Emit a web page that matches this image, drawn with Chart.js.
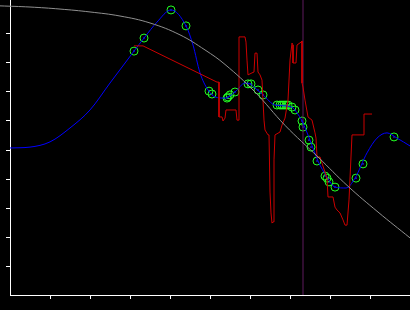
<!DOCTYPE html>
<html>
<head>
<meta charset="utf-8">
<script src="https://cdn.jsdelivr.net/npm/chart.js@4"></script>
<style>
  html, body { margin: 0; padding: 0; background: #000; }
  canvas { display: block; }
</style>
</head>
<body>
<canvas id="chart" width="410" height="310"></canvas>
<script>
// gray reference curve
var grayX = [-0.25, 0.5, 1.25, 2.0, 2.75, 3.5, 4.25, 4.875, 5.375, 6.125, 6.875, 7.7, 8.45, 9.2, 10];
var grayY = [9.97, 9.93, 9.86, 9.76, 9.62, 9.38, 8.97, 8.45, 7.95, 7.00, 5.85, 4.76, 3.75, 2.86, 1.97];

// blue smooth curve
var blueX = [0, 0.5, 1.0, 1.5, 2.0, 2.5, 3.1, 3.35, 3.675, 4.025, 4.4, 4.575, 4.75, 4.95, 5.125, 5.375, 5.625, 5.875, 6.0, 6.125,
             6.325, 6.625, 6.875, 7.075, 7.175, 7.3, 7.5, 7.7, 7.925, 8.125, 8.4, 8.625, 8.925, 9.175, 9.425, 9.675, 10];
var blueY = [5.07, 5.10, 5.28, 5.76, 6.38, 7.31, 8.41, 8.86, 9.41, 9.83, 9.28, 8.62, 7.66, 7.07, 6.83, 6.79, 7.0, 7.31, 7.28, 7.14,
             6.90, 6.55, 6.52, 6.45, 6.28, 6.0, 5.34, 4.62, 4.07, 3.72, 3.69, 4.03, 4.90, 5.41, 5.59, 5.41, 5.14];

// green sample points
var ptX = [3.1, 3.35, 4.025, 4.4, 4.975, 5.05, 5.425, 5.45, 5.5, 5.625, 5.95, 6.025, 6.2, 6.325, 6.675, 6.75, 6.8,
           6.85, 6.9, 6.95, 7.05, 7.125, 7.3, 7.325, 7.475, 7.525, 7.675, 7.875, 7.925, 7.975, 8.125, 8.65, 8.825, 9.6];
var ptY = [8.41, 8.86, 9.83, 9.28, 7.03, 6.93, 6.79, 6.83, 6.90, 7.0, 7.28, 7.28, 7.07, 6.90, 6.55, 6.55, 6.55,
           6.55, 6.55, 6.55, 6.48, 6.38, 6.0, 5.79, 5.34, 5.10, 4.62, 4.10, 4.03, 3.90, 3.72, 4.03, 4.52, 5.45];

// red noisy trace
var redX = [3.1, 3.325, 5.175, 5.225, 5.225, 5.3, 5.325, 5.375, 5.4, 5.65, 5.675, 5.725, 5.725, 5.875, 5.9, 5.925, 5.95,
            6.05, 6.1, 6.125, 6.175, 6.2, 6.25, 6.3, 6.35, 6.375, 6.45, 6.475, 6.5, 6.525, 6.55, 6.575, 6.6, 6.625,
            6.75, 6.8, 6.875, 6.95, 7.0, 7.05, 7.075, 7.075, 7.15, 7.175, 7.275, 7.3, 7.3, 7.325, 7.375, 7.45, 7.55,
            7.625, 7.65, 7.675, 7.75, 7.8, 7.875, 7.925, 7.95, 8.075, 8.125, 8.175, 8.25, 8.325, 8.375, 8.425, 8.475,
            8.55, 8.85, 8.85, 9.05];
var redY = [8.59, 8.59, 7.34, 7.34, 6.14, 6.14, 6.0, 6.10, 6.38, 6.38, 6.03, 6.03, 8.90, 8.90, 8.72, 8.10, 7.59,
            7.66, 7.69, 8.34, 8.34, 7.69, 7.59, 7.41, 6.03, 5.69, 5.52, 5.52, 3.55, 2.83, 2.48, 2.52, 4.66, 5.52,
            5.62, 5.86, 6.10, 6.72, 8.10, 8.69, 8.62, 8.0, 8.0, 8.62, 8.72, 8.76, 7.31, 7.17, 6.72, 6.14, 6.03,
            5.59, 5.41, 4.76, 4.76, 4.55, 4.24, 4.03, 3.38, 3.38, 3.03, 2.93, 2.83, 2.59, 2.41, 2.41, 3.28,
            5.52, 5.52, 6.24, 6.24];

// vertical marker
var markX = 7.325;

var yTop = 295 / 29;

function pts(xs, ys) {
    return xs.map(function (x, i) { return { x: x, y: ys[i] }; });
}

function tickColor(ctx) {
    var v = ctx.tick ? ctx.tick.value : null;
    return (v === 0 || v === 10) ? 'rgba(0,0,0,0)' : '#ffffff';
}

new Chart(document.getElementById('chart').getContext('2d'), {
    type: 'scatter',
    data: {
        datasets: [
            { data: pts(grayX, grayY), showLine: true, borderColor: '#909090', borderWidth: 1,
              pointRadius: 0, tension: 0.4, clip: false },
            { data: pts(redX, redY), showLine: true, borderColor: '#cc0000', borderWidth: 1,
              pointRadius: 0, tension: 0 },
            { data: pts(blueX, blueY), showLine: true, borderColor: '#0000ff', borderWidth: 1,
              pointRadius: 0, cubicInterpolationMode: 'monotone' },
            { data: [{ x: markX, y: 0 }, { x: markX, y: yTop }], showLine: true, borderColor: '#5e1a5e',
              borderWidth: 1, pointRadius: 0 },
            { data: pts(ptX, ptY), showLine: false, pointRadius: 4, pointBorderWidth: 1,
              pointBorderColor: '#22ff22', pointBackgroundColor: 'rgba(0,0,0,0)' },
            { data: pts(ptX, ptY), showLine: false, pointRadius: 0.8, pointBorderWidth: 0,
              pointBackgroundColor: '#2233ff' }
        ]
    },
    options: {
        responsive: false,
        animation: false,
        events: [],
        layout: { padding: 0, autoPadding: false },
        plugins: { legend: { display: false }, tooltip: { enabled: false } },
        scales: {
            x: {
                type: 'linear', min: 0, max: 10,
                afterFit: function (s) { s.height = 15; },
                ticks: { display: false, stepSize: 1 },
                grid: { drawOnChartArea: false, drawTicks: true, tickLength: 4, color: tickColor, lineWidth: 1 },
                border: { color: '#ffffff', width: 1 }
            },
            y: {
                type: 'linear', min: 0, max: yTop,
                afterFit: function (s) { s.width = 10; },
                ticks: { display: false, stepSize: 1, includeBounds: false },
                grid: { drawOnChartArea: false, drawTicks: true, tickLength: 4, color: tickColor, lineWidth: 1 },
                border: { color: '#ffffff', width: 1 }
            }
        }
    }
});
</script>
</body>
</html>
